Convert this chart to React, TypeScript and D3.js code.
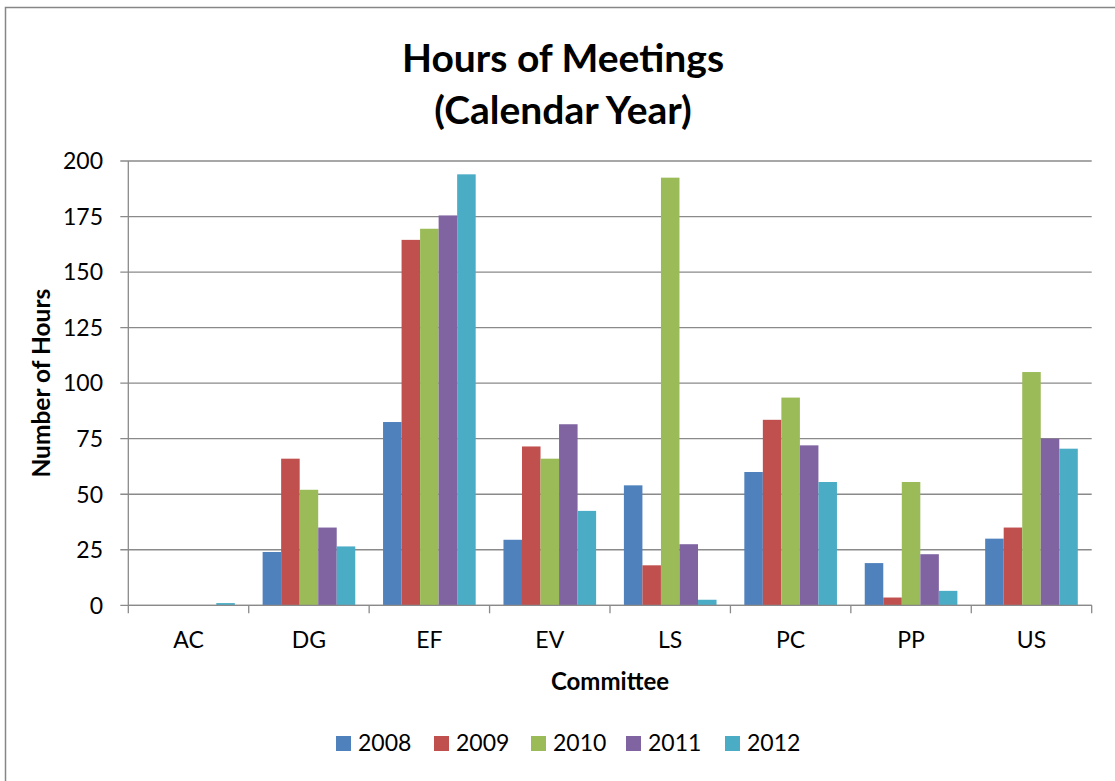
import React from "react";
import * as d3 from "d3";

const categories = ["AC", "DG", "EF", "EV", "LS", "PC", "PP", "US"];
const seriesNames = ["2008", "2009", "2010", "2011", "2012"];
const seriesColors = ["#4F81BD", "#C0504D", "#9BBB59", "#8064A2", "#4BACC6"];
const values2008 = [0, 24, 82.5, 29.5, 54, 60, 19, 30];
const values2009 = [0, 66, 164.5, 71.5, 18, 83.5, 3.5, 35];
const values2010 = [0, 52, 169.5, 66, 192.5, 93.5, 55.5, 105];
const values2011 = [0, 35, 175.5, 81.5, 27.5, 72, 23, 75];
const values2012 = [1, 26.5, 194, 42.5, 2.5, 55.5, 6.5, 70.5];
const yTicks = [0, 25, 50, 75, 100, 125, 150, 175, 200];
const seriesValues = [values2008, values2009, values2010, values2011, values2012];

const W = 1115;
const H = 781;
const FONT = "Lato, 'Open Sans', sans-serif";

export default function App() {
  const left = 128.3;
  const right = 1091.7;
  const top = 161;
  const bottom = 605.3;

  const x = d3.scaleBand<string>().domain(categories).range([left, right]).padding(0);
  const bw = x.bandwidth();
  const unit = bw / 6.5;
  const xs = d3
    .scaleBand<string>()
    .domain(seriesNames)
    .range([0.75 * unit, 5.75 * unit])
    .padding(0);
  const y = d3.scaleLinear().domain([0, 200]).range([bottom, top]);

  const legendX = [336, 434, 531, 626, 725];

  return (
    <svg
      width={W}
      height={H}
      style={{ position: "absolute", left: 0, top: 0, background: "#fff" }}
      fontFamily={FONT}
    >
      <rect x={5.5} y={7.5} width={1300} height={1000} fill="#fff" stroke="#868686" strokeWidth={1.5} />

      <text x={563} y={72} textAnchor="middle" fontSize={39} fontWeight="bold" fill="#000">
        Hours of Meetings
      </text>
      <text x={563} y={124} textAnchor="middle" fontSize={39} fontWeight="bold" fill="#000">
        (Calendar Year)
      </text>

      {/* gridlines */}
      {yTicks.map((t) => (
        <g key={t}>
          <line x1={left - 8} x2={right} y1={y(t)} y2={y(t)} stroke="#8a8a8a" strokeWidth={1.3} />
          <text x={103} y={y(t)} dy="0.36em" textAnchor="end" fontSize={23} fill="#000">
            {t}
          </text>
        </g>
      ))}
      <line x1={left} x2={left} y1={top} y2={bottom} stroke="#8a8a8a" strokeWidth={1.3} />

      {/* bars */}
      {categories.map((c, ci) => (
        <g key={c} transform={`translate(${x(c)},0)`}>
          {seriesNames.map((s, si) => {
            const v = seriesValues[si][ci];
            if (!v) return null;
            return (
              <rect
                key={s}
                x={xs(s)}
                y={y(v)}
                width={xs.bandwidth()}
                height={y(0) - y(v)}
                fill={seriesColors[si]}
              />
            );
          })}
        </g>
      ))}

      {/* x axis */}
      <line x1={left} x2={right} y1={bottom} y2={bottom} stroke="#8a8a8a" strokeWidth={1.3} />
      {categories.map((c) => (
        <line
          key={"t" + c}
          x1={x(c)}
          x2={x(c)}
          y1={bottom}
          y2={bottom + 8}
          stroke="#8a8a8a"
          strokeWidth={1.3}
        />
      ))}
      <line x1={right} x2={right} y1={bottom} y2={bottom + 8} stroke="#8a8a8a" strokeWidth={1.3} />
      {categories.map((c) => (
        <text key={"l" + c} x={(x(c) as number) + bw / 2} y={648} textAnchor="middle" fontSize={23} fill="#000">
          {c}
        </text>
      ))}

      <text x={(left + right) / 2} y={690} textAnchor="middle" fontSize={24} fontWeight="bold" fill="#000">
        Committee
      </text>
      <text
        transform={`translate(50,${(top + bottom) / 2}) rotate(-90)`}
        textAnchor="middle"
        fontSize={24.5}
        fontWeight="bold"
        fill="#000"
      >
        Number of Hours
      </text>

      {/* legend */}
      {seriesNames.map((s, i) => (
        <g key={"lg" + s} transform={`translate(${legendX[i]},0)`}>
          <rect x={0} y={736} width={15} height={15} fill={seriesColors[i]} />
          <text x={22} y={751} fontSize={23} fill="#000">
            {s}
          </text>
        </g>
      ))}
    </svg>
  );
}
